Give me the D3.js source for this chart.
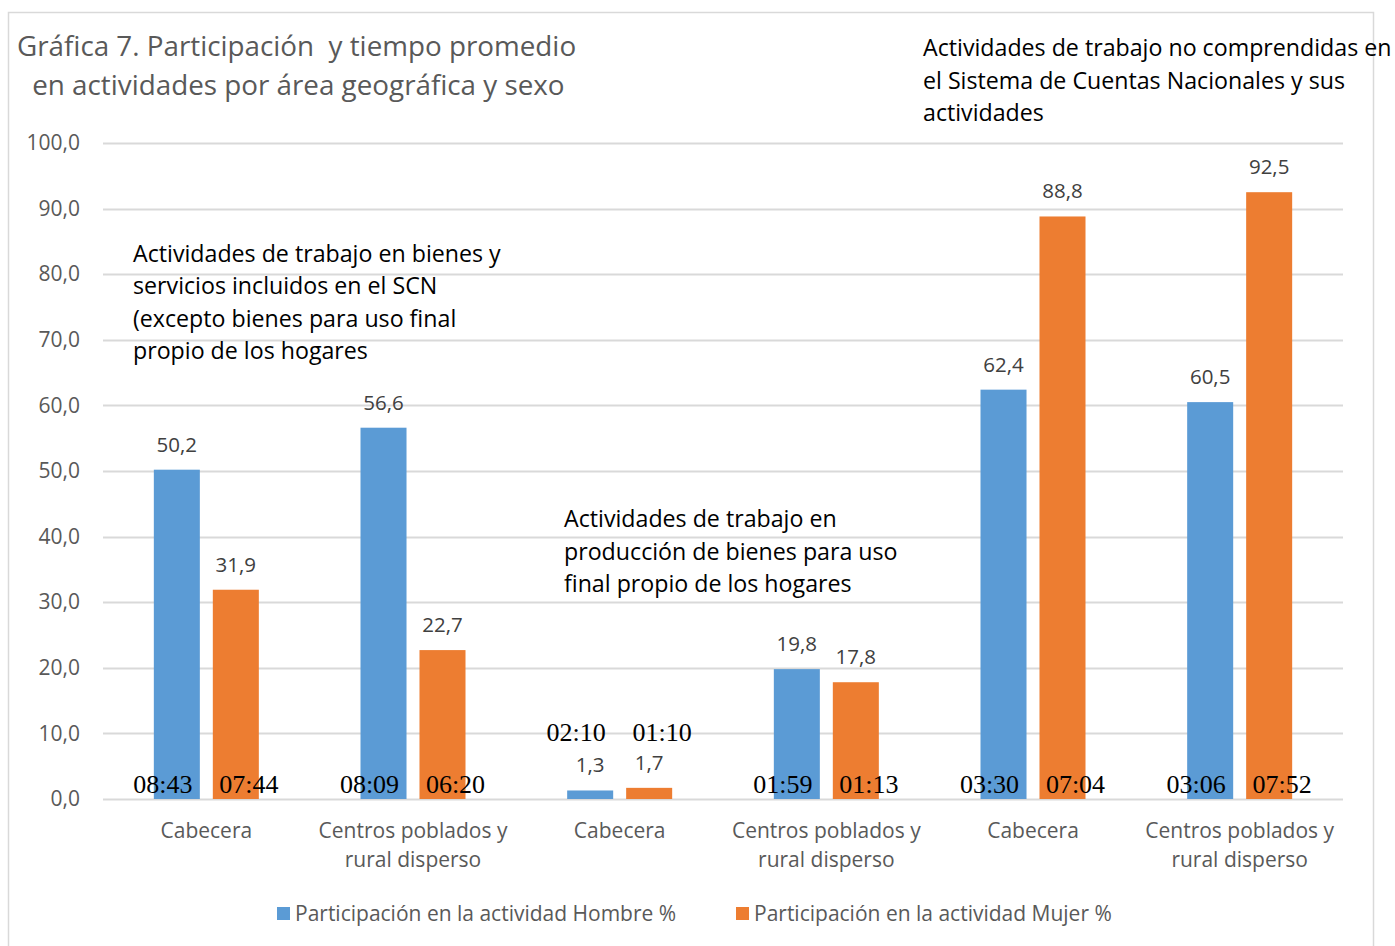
<!DOCTYPE html>
<html>
<head>
<meta charset="utf-8">
<script src="https://cdn.jsdelivr.net/npm/d3@7"></script>
<style>
  body { margin: 0; background: #fff; }
  svg text { font-family: "Open Sans", Lato, sans-serif; }
</style>
</head>
<body>
<div id="chart"></div>
<script>
// categories (two areas for each of three activity groups)
var categories = [
  ["Cabecera"],
  ["Centros poblados y", "rural disperso"],
  ["Cabecera"],
  ["Centros poblados y", "rural disperso"],
  ["Cabecera"],
  ["Centros poblados y", "rural disperso"]
];
var hombre = [50.2, 56.6, 1.3, 19.8, 62.4, 60.5];
var mujer = [31.9, 22.7, 1.7, 17.8, 88.8, 92.5];
// average time spent (hh:mm)
var tiempoHombre = ["08:43", "08:09", "02:10", "01:59", "03:30", "03:06"];
var tiempoMujer = ["07:44", "06:20", "01:10", "01:13", "07:04", "07:52"];
var yTicks = [0, 10, 20, 30, 40, 50, 60, 70, 80, 90, 100];
var seriesNames = ["Participación en la actividad Hombre %", "Participación en la actividad Mujer %"];
var titleLines = ["Gráfica 7. Participación  y tiempo promedio", " en actividades por área geográfica y sexo"];
var notes = [
  ["Actividades de trabajo en bienes y", "servicios incluidos en el SCN", "(excepto bienes para uso final", "propio de los hogares"],
  ["Actividades de trabajo en", "producción de bienes para uso", "final propio de los hogares"],
  ["Actividades de trabajo no comprendidas en", "el Sistema de Cuentas Nacionales y sus", "actividades"]
];

var width = 1395, height = 946;
var margin = {top: 143, right: 52, bottom: 147, left: 103};
var colors = ["#5b9bd5", "#ed7d31"];
var fmt = function (v) { return v.toFixed(1).replace(".", ","); };

var svg = d3.select("#chart").append("svg")
  .attr("width", width)
  .attr("height", height);

// outer frame
svg.append("rect")
  .attr("x", 8.5).attr("y", 12.5)
  .attr("width", 1365).attr("height", 960)
  .attr("fill", "none")
  .attr("stroke", "#d9d9d9")
  .attr("stroke-width", 1.5);

var x0 = d3.scaleBand()
  .domain(d3.range(categories.length))
  .range([margin.left, width - margin.right]);

// two bars per group, 46px wide with a 13px gap
var x1 = d3.scaleBand()
  .domain([0, 1])
  .range([x0.bandwidth() / 2 - 52.5, x0.bandwidth() / 2 + 52.5])
  .paddingInner(0.22);

var y = d3.scaleLinear()
  .domain([0, 100])
  .range([799, margin.top]);

// gridlines
svg.append("g")
  .selectAll("line")
  .data(yTicks)
  .join("line")
  .attr("x1", margin.left)
  .attr("x2", width - margin.right)
  .attr("y1", function (d) { return Math.round(y(d)) + 0.5; })
  .attr("y2", function (d) { return Math.round(y(d)) + 0.5; })
  .attr("stroke", "#d9d9d9")
  .attr("stroke-width", 2);

// y axis labels
var yAxis = svg.append("g")
  .attr("transform", "translate(" + margin.left + ",0)")
  .call(d3.axisLeft(y).tickValues(yTicks).tickFormat(fmt).tickSize(0).tickPadding(23));
yAxis.select(".domain").remove();
yAxis.selectAll("text")
  .attr("fill", "#595959")
  .style("font-size", "21px")
  .style("font-family", "'Open Sans', sans-serif");

// bars
var series = [hombre, mujer];
series.forEach(function (vals, s) {
  var g = svg.append("g");
  g.selectAll("rect")
    .data(vals)
    .join("rect")
    .attr("x", function (d, i) { return x0(i) + x1(s); })
    .attr("y", function (d) { return y(d); })
    .attr("width", x1.bandwidth())
    .attr("height", function (d) { return y(0) - y(d); })
    .attr("fill", colors[s]);

  // value labels
  g.selectAll("text.val")
    .data(vals)
    .join("text")
    .attr("class", "val")
    .attr("x", function (d, i) { return x0(i) + x1(s) + x1.bandwidth() / 2; })
    .attr("y", function (d) { return y(d) - 18; })
    .attr("text-anchor", "middle")
    .attr("fill", "#404040")
    .style("font-size", "20.5px")
    .text(fmt);
});

// time labels
var tiempos = [tiempoHombre, tiempoMujer];
tiempos.forEach(function (vals, s) {
  svg.append("g")
    .selectAll("text")
    .data(vals)
    .join("text")
    .attr("x", function (d, i) { return x0(i) + x1(s) + x1.bandwidth() / 2 + (s === 0 ? -14 : 13); })
    .attr("y", function (d, i) {
      // small bars: time sits above the value label
      var top = Math.max(hombre[i], mujer[i]);
      return top < 5 ? y(top) - 47 : y(0) - 6;
    })
    .attr("text-anchor", "middle")
    .attr("fill", "#000")
    .style("font-family", "'Liberation Serif', 'Times New Roman', serif")
    .style("font-size", "26px")
    .text(function (d) { return d; });
});

// category labels
var xl = svg.append("g");
categories.forEach(function (lines, i) {
  var t = xl.append("text")
    .attr("x", x0(i) + x0.bandwidth() / 2)
    .attr("y", y(0) + 39)
    .attr("text-anchor", "middle")
    .attr("fill", "#595959")
    .style("font-size", "21px");
  lines.forEach(function (l, k) {
    t.append("tspan")
      .attr("x", x0(i) + x0.bandwidth() / 2)
      .attr("dy", k === 0 ? 0 : 29)
      .text(l);
  });
});

// title
var title = svg.append("text")
  .attr("x", 17)
  .attr("y", 56)
  .attr("fill", "#595959")
  .style("font-size", "27.8px")
  .style("white-space", "pre");
titleLines.forEach(function (l, k) {
  title.append("tspan").attr("x", k === 0 ? 17 : 25).attr("dy", k === 0 ? 0 : 39).text(l);
});

// annotations
var notePos = [
  {x: 133, y: y(81.9)},
  {x: 564, y: y(41.4)},
  {x: 923, y: 56}
];
notes.forEach(function (lines, n) {
  var t = svg.append("text")
    .attr("x", notePos[n].x)
    .attr("y", notePos[n].y)
    .attr("fill", "#000")
    .style("font-size", "23.2px");
  lines.forEach(function (l, k) {
    t.append("tspan").attr("x", notePos[n].x).attr("dy", k === 0 ? 0 : 32.5).text(l);
  });
});

// legend
var legendX = [277, 736];
var legend = svg.selectAll(".legend")
  .data(seriesNames)
  .join("g")
  .attr("class", "legend")
  .attr("transform", function (d, i) { return "translate(" + legendX[i] + ",913)"; });
legend.append("rect")
  .attr("x", 0).attr("y", -6)
  .attr("width", 13).attr("height", 13)
  .attr("fill", function (d, i) { return colors[i]; });
legend.append("text")
  .attr("x", 18)
  .attr("y", 7.5)
  .attr("fill", "#595959")
  .style("font-size", "21px")
  .text(function (d) { return d; });
</script>
</body>
</html>
